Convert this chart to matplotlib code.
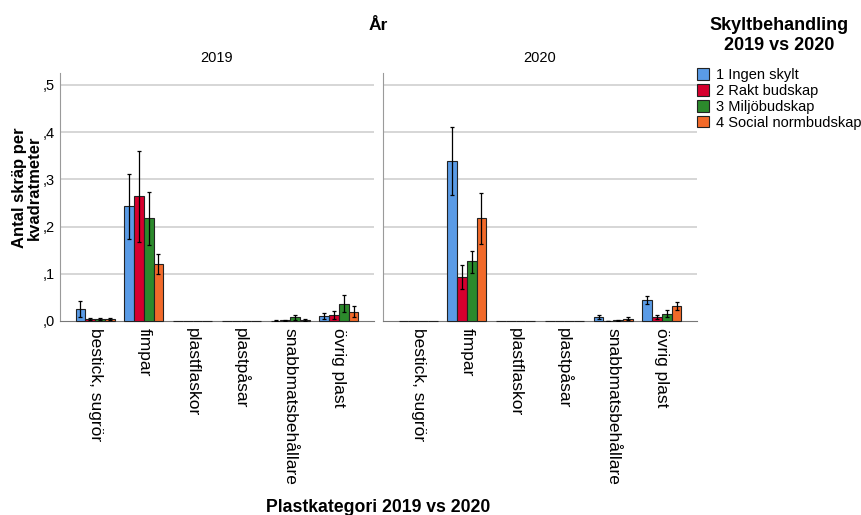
import numpy as np
import matplotlib.pyplot as plt
from matplotlib.patches import Patch

plt.rcParams['font.family'] = ['Liberation Sans', 'DejaVu Sans']

years = ['2019', '2020']
categories = ['bestick, sugrör', 'fimpar', 'plastflaskor', 'plastpåsar',
              'snabbmatsbehållare', 'övrig plast']
groups = ['1 Ingen skylt', '2 Rakt budskap', '3 Miljöbudskap', '4 Social normbudskap']
colors = ['#5a9be6', '#d6002e', '#2c8a2c', '#f26a2a']

# mean per category, one row per group
means_2019 = [
    [0.026, 0.244, 0.0, 0.0, 0.001, 0.010],
    [0.004, 0.265, 0.0, 0.0, 0.002, 0.013],
    [0.004, 0.217, 0.0, 0.0, 0.008, 0.037],
    [0.004, 0.121, 0.0, 0.0, 0.003, 0.020],
]
low_2019 = [
    [0.009, 0.174, 0.0, 0.0, 0.000, 0.004],
    [0.002, 0.168, 0.0, 0.0, 0.001, 0.005],
    [0.002, 0.160, 0.0, 0.0, 0.002, 0.018],
    [0.002, 0.100, 0.0, 0.0, 0.001, 0.008],
]
high_2019 = [
    [0.043, 0.312, 0.0, 0.0, 0.002, 0.016],
    [0.006, 0.360, 0.0, 0.0, 0.003, 0.022],
    [0.006, 0.273, 0.0, 0.0, 0.012, 0.054],
    [0.006, 0.141, 0.0, 0.0, 0.005, 0.032],
]
means_2020 = [
    [0.0, 0.339, 0.0, 0.0, 0.0085, 0.0445],
    [0.0, 0.093, 0.0, 0.0, 0.0005, 0.0085],
    [0.0, 0.126, 0.0, 0.0, 0.002, 0.0155],
    [0.0, 0.218, 0.0, 0.0, 0.005, 0.032],
]
low_2020 = [
    [0.0, 0.266, 0.0, 0.0, 0.004, 0.037],
    [0.0, 0.067, 0.0, 0.0, 0.000, 0.004],
    [0.0, 0.102, 0.0, 0.0, 0.001, 0.008],
    [0.0, 0.164, 0.0, 0.0, 0.002, 0.024],
]
high_2020 = [
    [0.0, 0.410, 0.0, 0.0, 0.013, 0.052],
    [0.0, 0.119, 0.0, 0.0, 0.001, 0.013],
    [0.0, 0.149, 0.0, 0.0, 0.003, 0.023],
    [0.0, 0.271, 0.0, 0.0, 0.008, 0.041],
]
yticks = [0.0, 0.1, 0.2, 0.3, 0.4, 0.5]
ytick_labels = [',0', ',1', ',2', ',3', ',4', ',5']

W, H = 862, 515
fig = plt.figure(figsize=(W / 100, H / 100), dpi=100)

def px_axes(x0, y0, x1, y1):
    return fig.add_axes([x0 / W, 1 - y1 / H, (x1 - x0) / W, (y1 - y0) / H])

panels = [
    (px_axes(60, 73, 374, 321), means_2019, low_2019, high_2019),
    (px_axes(383, 73, 697, 321), means_2020, low_2020, high_2020),
]

x = np.arange(len(categories))
bw = 0.2
for i, (ax, means, low, high) in enumerate(panels):
    for g in range(len(groups)):
        m = np.array(means[g])
        err = [m - np.array(low[g]), np.array(high[g]) - m]
        pos = x + (g - 1.5) * bw
        ax.bar(pos, m, width=bw, color=colors[g], edgecolor='#222222', linewidth=0.8,
               zorder=3, clip_on=False)
        nz = m > 0
        ax.errorbar(pos[nz], m[nz], yerr=[err[0][nz], err[1][nz]], fmt='none',
                    ecolor='black', elinewidth=0.9, capsize=1.5, capthick=0.9, zorder=4)
    ax.set_xlim(-0.72, 5.72)
    ax.set_ylim(0, 0.525)
    ax.set_yticks(yticks)
    for yv in yticks[1:]:
        ax.axhline(yv, color='#cfcfcf', linewidth=1.2, zorder=1)
    ax.set_xticks(x)
    ax.set_xticklabels(categories, rotation=-90, fontsize=12.5, va='top', ha='center')
    ax.tick_params(axis='x', length=0, pad=5)
    ax.tick_params(axis='y', length=0, pad=4)
    for s in ['top', 'right']:
        ax.spines[s].set_visible(False)
    ax.spines['left'].set_color('#9a9a9a')
    ax.spines['bottom'].set_color('#777777')
    ax.spines['left'].set_zorder(2)
    ax.spines['bottom'].set_zorder(2)
    if i == 0:
        ax.set_yticklabels(ytick_labels, fontsize=10.5)
    else:
        ax.set_yticklabels([])
    ax.set_title(years[i], fontsize=10.5, pad=8)

fig.text(378 / W, 1 - 25 / H, 'År', fontsize=12.5, fontweight='bold', ha='center', va='center')
fig.text(378 / W, 1 - 507 / H, 'Plastkategori 2019 vs 2020', fontsize=12.7,
         fontweight='bold', ha='center', va='center')
fig.text(27 / W, 1 - 188 / H, 'Antal skräp per\nkvadratmeter', fontsize=12,
         fontweight='bold', ha='center', va='center', rotation=90, linespacing=0.95)

handles = [Patch(facecolor=c, edgecolor='#222222', linewidth=0.8) for c in colors]
leg = fig.legend(handles, groups, loc='upper left', bbox_to_anchor=(697 / W, 1 - 17 / H),
                 frameon=False, fontsize=10.5, title='Skyltbehandling\n2019 vs 2020',
                 title_fontproperties={'weight': 'bold', 'size': 13},
                 handlelength=0.85, handleheight=0.85, handletextpad=0.45,
                 labelspacing=0.12, borderaxespad=0, borderpad=0, alignment='center')
leg.get_title().set_multialignment('center')
leg._legend_box.sep = 10.6  # gap between title and entries, in points

fig.savefig('out.png', dpi=100)
